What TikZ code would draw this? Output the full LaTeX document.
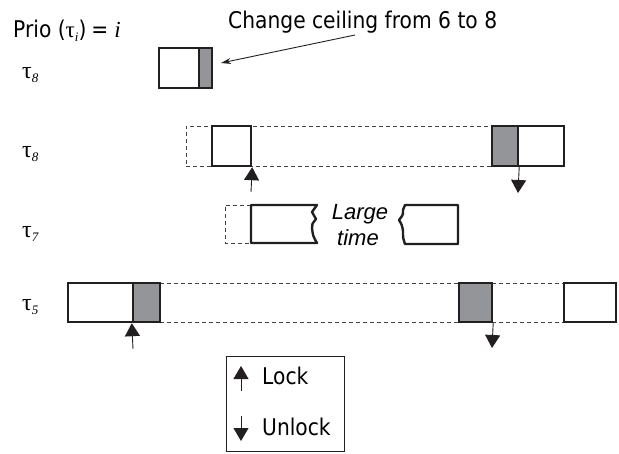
\documentclass[tikz,border=0pt]{standalone}
\usepackage{fontspec}
\usetikzlibrary{arrows.meta}
\newfontfamily\tah[FakeStretch=0.88]{DejaVu Sans}
\newfontfamily\tms{Liberation Serif}
\newfontfamily\arl{Liberation Sans}
\definecolor{boxgray}{RGB}{147,149,152}
\definecolor{ink}{RGB}{35,31,32}
\newcommand{\tahsz}{\tah\fontsize{23}{27}\selectfont}
\newcommand{\taulbl}[1]{{\tms\fontsize{24}{24}\selectfont τ\raisebox{-4pt}{\fontsize{13}{13}\selectfont\itshape #1}}}
\tikzset{lockarrow/.style={draw=ink, line width=0.9pt, arrows={-Triangle[width=15pt,length=13pt,fill=ink]}}}
\begin{document}
\begin{tikzpicture}[x=1pt,y=-1pt,
  wbox/.style={draw=ink, line width=2.4pt, fill=white, inner sep=0pt},
  gbox/.style={draw=ink, line width=2.4pt, fill=boxgray, inner sep=0pt},
  dashline/.style={draw=ink!85, line width=0.8pt, dash pattern=on 4pt off 3pt},
  lbl/.style={anchor=base west, inner sep=0pt},
  legbox/.style={draw=ink, line width=0.9pt, inner sep=0pt}
]
\useasboundingbox (0,0) rectangle (619,453);

% header
\node[lbl] (prio) at (13,37) {\tah\fontsize{23}{27}\selectfont Prio (\tms τ\raisebox{-4pt}{\fontsize{13}{13}\selectfont\itshape i}\tah)\hspace{5pt}=\hspace{6pt}\tms\itshape i};
\node[lbl] (chg) at (228,28) {\tahsz Change ceiling from 6 to 8};

% task labels
\node[lbl] (t1) at (22,78) {\taulbl{8}};
\node[lbl] (t2) at (22,157) {\taulbl{8}};
\node[lbl] (t3) at (22,237) {\taulbl{7}};
\node[lbl] (t4) at (22,310) {\taulbl{5}};

% row 1
\node[wbox, minimum width=40pt, minimum height=40pt] (w1) at (179,68) {};
\node[gbox, minimum width=13pt, minimum height=40pt] (g1) at (205.5,68) {};
\coordinate (cs) at (355,35);
\coordinate (ct) at (221,63);
\draw[ink, line width=0.9pt, -{Stealth[length=10pt,width=6pt]}] (cs) -- (ct);

% row 2
\node[dashline, inner sep=0pt, minimum width=306pt, minimum height=40pt] (d2) at (339,146) {};
\node[wbox, minimum width=39pt, minimum height=40pt] (w2) at (231.5,146) {};
\node[gbox, minimum width=26pt, minimum height=40pt] (g2) at (505,146) {};
\node[wbox, minimum width=46pt, minimum height=40pt] (w2b) at (541,146) {};
\coordinate (u2) at (251,192);
\coordinate (dn2) at (518,193);
\draw[lockarrow] (u2) -- (w2.south east);
\draw[lockarrow] (g2.south east) -- (dn2);

% row 3
\draw[dashline] (251,205) -- (225,205) -- (225,243) -- (251,243);
\draw[ink, line width=2.4pt, line join=round, fill=white]
  (317,205) .. controls (314,209) .. (312,212) .. controls (314,216) .. (316,219)
  .. controls (312,224) .. (312,228) .. controls (313,236) .. (317,243)
  -- (251,243) -- (251,205) -- cycle;
\draw[ink, line width=2.4pt, line join=round, fill=white]
  (405,205) -- (458,205) -- (458,244) -- (405,244)
  .. controls (403,238) .. (403,231) .. controls (402,225) .. (399,220)
  .. controls (403,215) .. (403,210) .. controls (404,207) .. cycle;
\node[anchor=base, inner sep=0pt] (lg1) at (360,219) {\arl\itshape\fontsize{22}{22}\selectfont Large};
\node[anchor=base, inner sep=0pt] (lg2) at (358,245) {\arl\itshape\fontsize{22}{22}\selectfont time};

% row 4
\draw[dashline] (160,283) -- (459,283);
\draw[dashline] (160,322) -- (459,322);
\draw[dashline] (492,283) -- (564,283);
\draw[dashline] (492,322) -- (564,322);
\node[wbox, minimum width=65pt, minimum height=39pt] (w4) at (100.5,302.5) {};
\node[gbox, minimum width=27pt, minimum height=39pt] (g4) at (146.5,302.5) {};
\node[gbox, minimum width=33pt, minimum height=39pt] (g4b) at (475.5,302.5) {};
\node[wbox, minimum width=52pt, minimum height=39pt] (w4b) at (590,302.5) {};
\coordinate (u4) at (133,349);
\coordinate (dn4) at (492,348);
\draw[lockarrow] (u4) -- (g4.south west);
\draw[lockarrow] (g4b.south east) -- (dn4);

% legend
\node[legbox, minimum width=118pt, minimum height=95pt] (leg) at (285,403.5) {};
\coordinate (la1) at (241,391);
\coordinate (la2) at (241,366);
\coordinate (lb1) at (241,416);
\coordinate (lb2) at (241,441);
\draw[lockarrow] (la1) -- (la2);
\draw[lockarrow] (lb1) -- (lb2);
\node[lbl] (lk) at (262,384) {\tahsz Lock};
\node[lbl] (ulk) at (262,435) {\tahsz Unlock};
\end{tikzpicture}
\end{document}
